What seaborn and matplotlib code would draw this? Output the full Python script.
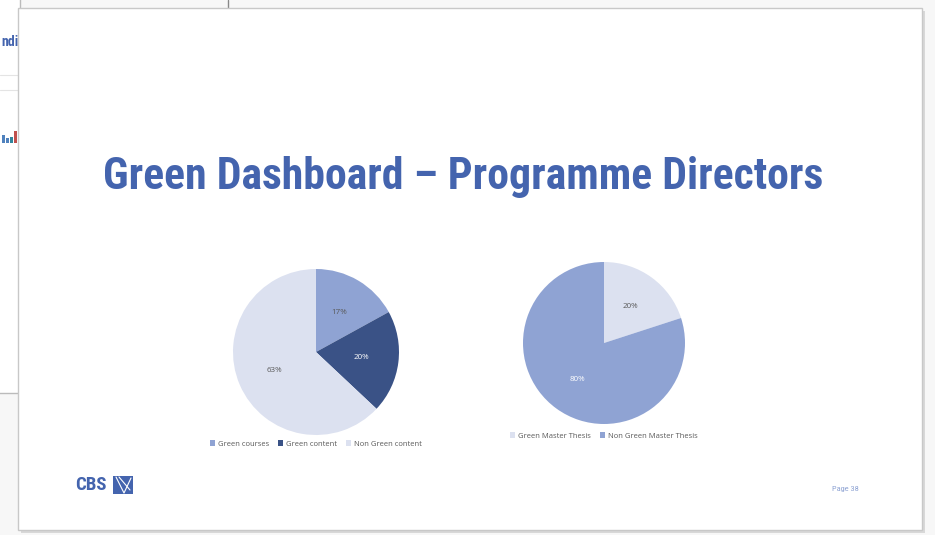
"""Green Dashboard - Programme Directors slide: two pie charts."""
import matplotlib
matplotlib.use('Agg')
import matplotlib.pyplot as plt
from matplotlib import font_manager
from matplotlib.patches import Rectangle
import seaborn as sns

# data
course_labels = ['Green courses', 'Green content', 'Non Green content']
course_share = [17, 20, 63]
thesis_labels = ['Green Master Thesis', 'Non Green Master Thesis']
thesis_share = [20, 80]

TITLE = 'Green Dashboard \u2013 Programme Directors'
BLUE_MID = '#8FA3D3'
BLUE_DARK = '#3A5286'
BLUE_LIGHT = '#DCE1F0'
TITLE_BLUE = '#4464AE'
GREY_TXT = '#595959'

sns.set_theme(style='white')
installed = {f.name for f in font_manager.fontManager.ttflist}
narrow = next((f for f in ['Roboto Condensed', 'Liberation Sans Narrow',
                           'Open Sans Condensed', 'DejaVu Sans Condensed']
               if f in installed), 'Liberation Sans')
plt.rcParams['font.family'] = ['Open Sans', 'DejaVu Sans']

W, H = 935, 535
fig = plt.figure(figsize=(W / 100, H / 100), dpi=100, facecolor='#F7F7F7')
bg = fig.add_axes([0, 0, 1, 1])
bg.set_xlim(0, W)
bg.set_ylim(H, 0)
bg.axis('off')

# slide behind (left) and the slide itself
bg.add_patch(Rectangle((-5, -5), 25, 398, facecolor='white', edgecolor='#BBBBBB',
                       lw=1, zorder=0.1))
bg.plot([228, 228], [0, 8], color='#888888', lw=1, zorder=0.2)
bg.plot([0, 18], [75, 75], color='#E4E4E4', lw=0.8, zorder=0.2)
bg.plot([0, 18], [90, 90], color='#E4E4E4', lw=0.8, zorder=0.2)
bg.text(1, 42, 'ndi', color=TITLE_BLUE, fontsize=10, fontweight='bold',
        family=narrow, va='center', zorder=0.2)
for x, h, c in [(2, 8, '#4F81BD'), (6, 5, '#4F81BD'), (10, 6, '#31859C'),
                (14, 12, '#C0504D')]:
    bg.add_patch(Rectangle((x, 143 - h), 2.5, h, facecolor=c, lw=0, zorder=0.2))
bg.add_patch(Rectangle((21, 11), 904, 522, facecolor='#D8D8D8', lw=0, zorder=0.5))
bg.add_patch(Rectangle((18, 8), 904, 522, facecolor='white', edgecolor='#C8C8C8',
                       lw=1, zorder=0.6))

bg.text(463, 177, TITLE, color=TITLE_BLUE, fontsize=31.5, fontweight='bold',
        family=narrow, ha='center', va='center')

# CBS logo and page number
bg.text(75, 485, 'CBS', color=TITLE_BLUE, fontsize=13.5, fontweight='bold',
        family=narrow, ha='left', va='center')
bg.add_patch(Rectangle((113, 476), 20, 18, facecolor=TITLE_BLUE, lw=0))
bg.plot([116, 124, 131], [477, 493, 478], color='white', lw=0.8)
bg.plot([119, 130], [477, 490], color='white', lw=0.8)
bg.text(845, 489, 'Page 38', color='#8EA3D3', fontsize=6, family=narrow,
        ha='center', va='center')


def pie_panel(cx, cy, r, values, labels, colors, txt_colors, leg_y, leg_cols):
    ax = fig.add_axes([(cx - r) / W, (H - cy - r) / H, 2 * r / W, 2 * r / H])
    wedges, texts, autotexts = ax.pie(
        values, colors=colors, startangle=90, counterclock=False,
        autopct='%d%%', pctdistance=0.55, labels=None,
        wedgeprops={'linewidth': 0},
        textprops={'fontsize': 5.8})
    for t, c in zip(autotexts, txt_colors):
        t.set_color(c)
    ax.set_xlim(-1, 1)
    ax.set_ylim(-1, 1)
    ax.set_aspect('equal')
    fig.legend(wedges, labels, loc='center', ncol=leg_cols,
               bbox_to_anchor=(cx / W, 1 - leg_y / H), frameon=False,
               fontsize=5.5, labelcolor=GREY_TXT, handlelength=0.7,
               handleheight=0.7, handletextpad=0.4, columnspacing=1.1)
    return ax


pie_panel(316, 352, 83, course_share, course_labels,
          [BLUE_MID, BLUE_DARK, BLUE_LIGHT], [GREY_TXT, 'white', GREY_TXT],
          444, 3)
pie_panel(604, 343, 81, thesis_share, thesis_labels,
          [BLUE_LIGHT, BLUE_MID], [GREY_TXT, 'white'], 436, 2)

fig.savefig('out.png', dpi=100, facecolor=fig.get_facecolor())
